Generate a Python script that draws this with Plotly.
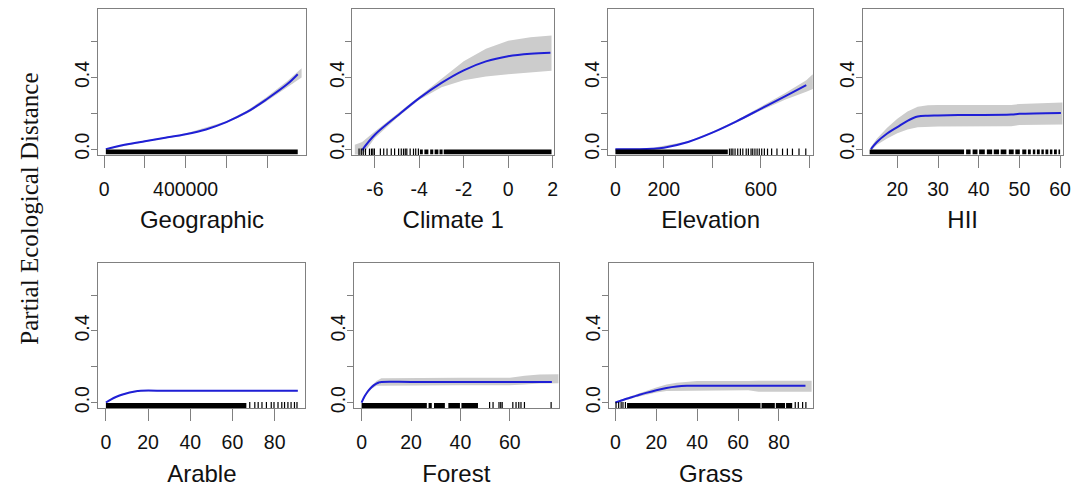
import plotly.graph_objects as go

# ---------------- data ----------------
# Geographic
geo_x = [8000, 100000, 200000, 300000, 400000, 500000, 600000, 700000, 800000, 900000, 951000]
geo_y = [0.0, 0.024, 0.044, 0.063, 0.083, 0.110, 0.151, 0.206, 0.280, 0.363, 0.418]
geo_band_x = [8000, 200000, 400000, 600000, 700000, 800000, 900000, 970000]
geo_band_lo = [-0.004, 0.040, 0.079, 0.146, 0.198, 0.268, 0.345, 0.400]
geo_band_hi = [0.004, 0.048, 0.087, 0.156, 0.214, 0.292, 0.381, 0.452]
geo_rug_dense = [[8000, 951000]]
geo_rug_ticks = []

# Climate 1
clim_x = [-6.57, -6.0, -5.0, -4.0, -3.0, -2.0, -1.0, 0.0, 1.0, 1.9]
clim_y = [-0.005, 0.080, 0.185, 0.285, 0.370, 0.440, 0.490, 0.519, 0.533, 0.538]
clim_band_x = [-6.9, -6.57, -6.0, -5.0, -4.0, -3.0, -2.0, -1.0, 0.0, 1.0, 1.95]
clim_band_lo = [-0.04, -0.035, 0.062, 0.175, 0.276, 0.345, 0.385, 0.405, 0.418, 0.430, 0.438]
clim_band_hi = [0.025, 0.040, 0.098, 0.196, 0.294, 0.390, 0.490, 0.560, 0.605, 0.625, 0.635]
clim_rug_dense = [[-3.97, -3.84], [-3.77, -3.59], [-3.51, -3.37], [-3.31, -3.14],
                  [-3.09, -2.95], [-2.90, 1.95]]
clim_rug_ticks = [-6.71, -6.61, -6.52, -6.42, -6.24, -6.15, -6.09, -6.02, -5.75, -5.60,
                  -5.45, -5.26, -5.11, -4.93, -4.81, -4.71, -4.63, -4.56, -4.41, -4.26,
                  -4.16, -4.04]

# Elevation
elev_x = [0, 50, 100, 150, 200, 300, 400, 500, 600, 700, 788]
elev_y = [0.0, 0.0, 0.0, 0.002, 0.008, 0.040, 0.092, 0.155, 0.225, 0.295, 0.357]
elev_band_x = [0, 150, 300, 400, 500, 600, 700, 788, 815]
elev_band_lo = [-0.004, -0.002, 0.036, 0.087, 0.149, 0.215, 0.276, 0.320, 0.335]
elev_band_hi = [0.004, 0.006, 0.044, 0.097, 0.161, 0.235, 0.312, 0.385, 0.418]
elev_rug_dense = [[0, 464]]
elev_rug_ticks = [471, 478, 485, 494, 505, 516, 526, 540, 549, 560, 567, 576, 585, 594,
                  604, 615, 628, 645, 667, 690, 710, 731, 758, 786]

# HII
hii_x = [13.5, 15.0, 17.5, 20.0, 22.5, 25.0, 27.5, 30.0, 35.0, 48.0, 50.0, 60.2]
hii_y = [0.0, 0.040, 0.087, 0.123, 0.158, 0.182, 0.187, 0.188, 0.190, 0.193, 0.197, 0.202]
hii_band_x = [13.5, 15.0, 17.5, 20.0, 22.5, 25.0, 27.5, 30.0, 48.0, 50.0, 60.6]
hii_band_lo = [-0.010, 0.025, 0.060, 0.088, 0.110, 0.122, 0.126, 0.127, 0.128, 0.134, 0.138]
hii_band_hi = [0.012, 0.060, 0.120, 0.170, 0.210, 0.236, 0.245, 0.246, 0.247, 0.252, 0.260]
hii_rug_dense = [[13.2, 36.4], [36.9, 38.0], [38.5, 39.7], [40.1, 41.5], [42.0, 43.3],
                 [43.7, 45.0], [45.4, 46.8], [47.4, 48.6], [49.0, 50.1], [50.7, 51.7],
                 [52.1, 52.8], [53.3, 53.9], [54.3, 55.0], [55.4, 56.0], [56.4, 57.1],
                 [57.5, 58.1], [58.5, 59.2], [59.6, 60.0]]
hii_rug_ticks = []

# Arable
arable_x = [0, 2.5, 5, 7.5, 10, 12.5, 15, 16.5, 30, 60, 91]
arable_y = [0.0, 0.018, 0.032, 0.043, 0.052, 0.059, 0.064, 0.066, 0.066, 0.066, 0.066]
arable_band_x = [0, 5, 10, 16.5, 30, 60, 91]
arable_band_lo = [-0.002, 0.029, 0.049, 0.063, 0.063, 0.063, 0.063]
arable_band_hi = [0.002, 0.035, 0.055, 0.069, 0.069, 0.069, 0.069]
arable_rug_dense = [[0, 66.6]]
arable_rug_ticks = [68.2, 70.6, 72.2, 74.0, 76.1, 78.4, 79.7, 81.6, 83.4, 84.7, 86.3,
                    87.8, 89.4, 90.6]

# Forest
forest_x = [0, 1, 2, 3, 4, 5, 6, 7, 8, 20, 40, 60, 77]
forest_y = [0.0, 0.030, 0.052, 0.070, 0.085, 0.097, 0.106, 0.112, 0.115, 0.115, 0.115, 0.115, 0.115]
forest_band_x = [0, 2, 4, 6, 8, 20, 40, 60, 66, 72, 79.8]
forest_band_lo = [-0.005, 0.044, 0.076, 0.094, 0.098, 0.097, 0.097, 0.097, 0.100, 0.106, 0.108]
forest_band_hi = [0.005, 0.060, 0.094, 0.120, 0.136, 0.138, 0.138, 0.138, 0.150, 0.156, 0.158]
forest_rug_dense = [[0, 26.4], [27.1, 28.4], [29.3, 33.7], [35.1, 39.8], [40.4, 47.1]]
forest_rug_ticks = [51.8, 53.2, 55.6, 56.3, 56.9, 61.2, 62.5, 63.6, 64.5, 65.9, 76.7]

# Grass
grass_x = [0, 5, 10, 15, 20, 25, 30, 35, 40, 60, 93]
grass_y = [0.0, 0.020, 0.037, 0.054, 0.069, 0.081, 0.089, 0.093, 0.094, 0.093, 0.093]
grass_band_x = [0, 5, 10, 15, 20, 25, 30, 40, 65, 70, 93, 96]
grass_band_lo = [-0.005, 0.013, 0.030, 0.044, 0.056, 0.064, 0.068, 0.068, 0.068, 0.060, 0.060, 0.060]
grass_band_hi = [0.005, 0.026, 0.045, 0.065, 0.084, 0.100, 0.111, 0.120, 0.120, 0.121, 0.121, 0.121]
grass_rug_dense = [[5.7, 71.0], [71.5, 78.0], [78.5, 83.0], [83.5, 86.5]]
grass_rug_ticks = [0.3, 1.6, 2.8, 3.7, 4.9, 88.0, 89.5, 91.6, 93.2]

# axis titles and tick labels
titles = ["Geographic", "Climate 1", "Elevation", "HII", "Arable", "Forest", "Grass"]
geo_tickvals = [0, 200000, 400000, 600000, 800000]
geo_ticktext = ["0", "", "400000", "", ""]
clim_tickvals = [-6, -4, -2, 0, 2]
clim_ticktext = ["-6", "-4", "-2", "0", "2"]
elev_tickvals = [0, 200, 400, 600, 800]
elev_ticktext = ["0", "200", "", "600", ""]
hii_tickvals = [20, 30, 40, 50, 60]
hii_ticktext = ["20", "30", "40", "50", "60"]
arable_tickvals = [0, 20, 40, 60, 80]
arable_ticktext = ["0", "20", "40", "60", "80"]
forest_tickvals = [0, 20, 40, 60]
forest_ticktext = ["0", "20", "40", "60"]
grass_tickvals = [0, 20, 40, 60, 80]
grass_ticktext = ["0", "20", "40", "60", "80"]
y_tickvals = [0.0, 0.2, 0.4, 0.6]
y_ticktext = ["0.0", "", "0.4", ""]
y_label = "Partial Ecological Distance"

# ---------------- layout / style ----------------
W, H = 1082, 490
BLUE = "#1f1fd6"
BAND = "#cccccc"
AXC = "#808080"
TXT = "#111111"
SANS = "Liberation Sans, Arial, sans-serif"
SERIF = "Liberation Serif, Times New Roman, serif"
Y_RANGE = [-0.03, 0.78]
RUG_Y = -0.0165

panels = [
    dict(x=geo_x, y=geo_y, bx=geo_band_x, blo=geo_band_lo, bhi=geo_band_hi,
         dense=geo_rug_dense, ticks=geo_rug_ticks, tv=geo_tickvals, tt=geo_ticktext,
         px=(99, 308), row=0, xr=[-29268, 990244]),
    dict(x=clim_x, y=clim_y, bx=clim_band_x, blo=clim_band_lo, bhi=clim_band_hi,
         dense=clim_rug_dense, ticks=clim_rug_ticks, tv=clim_tickvals, tt=clim_ticktext,
         px=(355, 558.3), row=0, xr=[-7.01, 2.07]),
    dict(x=elev_x, y=elev_y, bx=elev_band_x, blo=elev_band_lo, bhi=elev_band_hi,
         dense=elev_rug_dense, ticks=elev_rug_ticks, tv=elev_tickvals, tt=elev_ticktext,
         px=(612.7, 819.3), row=0, xr=[-29.9, 816.8]),
    dict(x=hii_x, y=hii_y, bx=hii_band_x, blo=hii_band_lo, bhi=hii_band_hi,
         dense=hii_rug_dense, ticks=hii_rug_ticks, tv=hii_tickvals, tt=hii_ticktext,
         px=(869, 1070.7), row=0, xr=[11.46, 60.66]),
    dict(x=arable_x, y=arable_y, bx=arable_band_x, blo=arable_band_lo, bhi=arable_band_hi,
         dense=arable_rug_dense, ticks=arable_rug_ticks, tv=arable_tickvals, tt=arable_ticktext,
         px=(99, 307.7), row=1, xr=[-3.62, 94.6]),
    dict(x=forest_x, y=forest_y, bx=forest_band_x, blo=forest_band_lo, bhi=forest_band_hi,
         dense=forest_rug_dense, ticks=forest_rug_ticks, tv=forest_tickvals, tt=forest_ticktext,
         px=(356.7, 562.7), row=1, xr=[-3.05, 79.7]),
    dict(x=grass_x, y=grass_y, bx=grass_band_x, blo=grass_band_lo, bhi=grass_band_hi,
         dense=grass_rug_dense, ticks=grass_rug_ticks, tv=grass_tickvals, tt=grass_ticktext,
         px=(613.3, 819.3), row=1, xr=[-3.25, 96.8]),
]
row_py = [(9.5, 156.1), (265.5, 412.1)]

fig = go.Figure()
layout = dict(
    width=W, height=H, margin=dict(l=0, r=0, t=0, b=0),
    paper_bgcolor="white", plot_bgcolor="white", showlegend=False,
    font=dict(family=SANS, color=TXT),
)

for i, p in enumerate(panels):
    n = "" if i == 0 else str(i + 1)
    xa, ya = "x" + n, "y" + n
    # confidence band
    fig.add_trace(go.Scatter(
        x=list(p["bx"]) + list(p["bx"])[::-1],
        y=list(p["bhi"]) + list(p["blo"])[::-1],
        mode="lines", fill="toself", fillcolor=BAND, line=dict(width=0, color=BAND),
        xaxis=xa, yaxis=ya, hoverinfo="skip"))
    # fitted spline
    fig.add_trace(go.Scatter(
        x=p["x"], y=p["y"], mode="lines", line=dict(color=BLUE, width=2, shape="spline"),
        xaxis=xa, yaxis=ya))
    # rug: dense stretches
    rx, ry = [], []
    for a, b in p["dense"]:
        rx += [a, b, None]
        ry += [RUG_Y, RUG_Y, None]
    if rx:
        fig.add_trace(go.Scatter(x=rx, y=ry, mode="lines", line=dict(color="black", width=5),
                                 xaxis=xa, yaxis=ya, hoverinfo="skip"))
    # rug: individual ticks
    if p["ticks"]:
        fig.add_trace(go.Scatter(
            x=p["ticks"], y=[RUG_Y] * len(p["ticks"]), mode="markers",
            marker=dict(symbol="line-ns", size=5, line=dict(color="black", width=1.2)),
            xaxis=xa, yaxis=ya, hoverinfo="skip", cliponaxis=False))

    y0p, y1p = row_py[p["row"]]
    layout["xaxis" + n] = dict(
        domain=[p["px"][0] / W, p["px"][1] / W], range=p["xr"], anchor=ya,
        tickvals=p["tv"], ticktext=p["tt"], ticks="outside", ticklen=12, tickwidth=1,
        tickcolor=AXC, showline=True, linecolor=AXC, linewidth=1, mirror=True,
        showgrid=False, zeroline=False, fixedrange=True,
        tickfont=dict(family=SANS, size=19.5, color=TXT), ticklabelstandoff=5,
        title=dict(text=titles[i], font=dict(family=SANS, size=24, color=TXT), standoff=12))
    layout["yaxis" + n] = dict(
        domain=[1 - y1p / H, 1 - y0p / H], range=Y_RANGE, anchor=xa,
        tickvals=y_tickvals, ticktext=y_ticktext, ticks="outside", ticklen=6, tickwidth=1,
        tickcolor=AXC, showline=True, linecolor=AXC, linewidth=1, mirror=True,
        showgrid=False, zeroline=False, tickangle=-90, fixedrange=True,
        tickfont=dict(family=SANS, size=19.5, color=TXT), ticklabelstandoff=-6)

layout["annotations"] = [dict(
    text=y_label, x=30 / W, y=1 - 211 / H, xref="paper", yref="paper",
    xanchor="center", yanchor="middle", textangle=-90, showarrow=False,
    font=dict(family=SERIF, size=25, color=TXT))]

fig.update_layout(**layout)
fig.write_html("out.html")
